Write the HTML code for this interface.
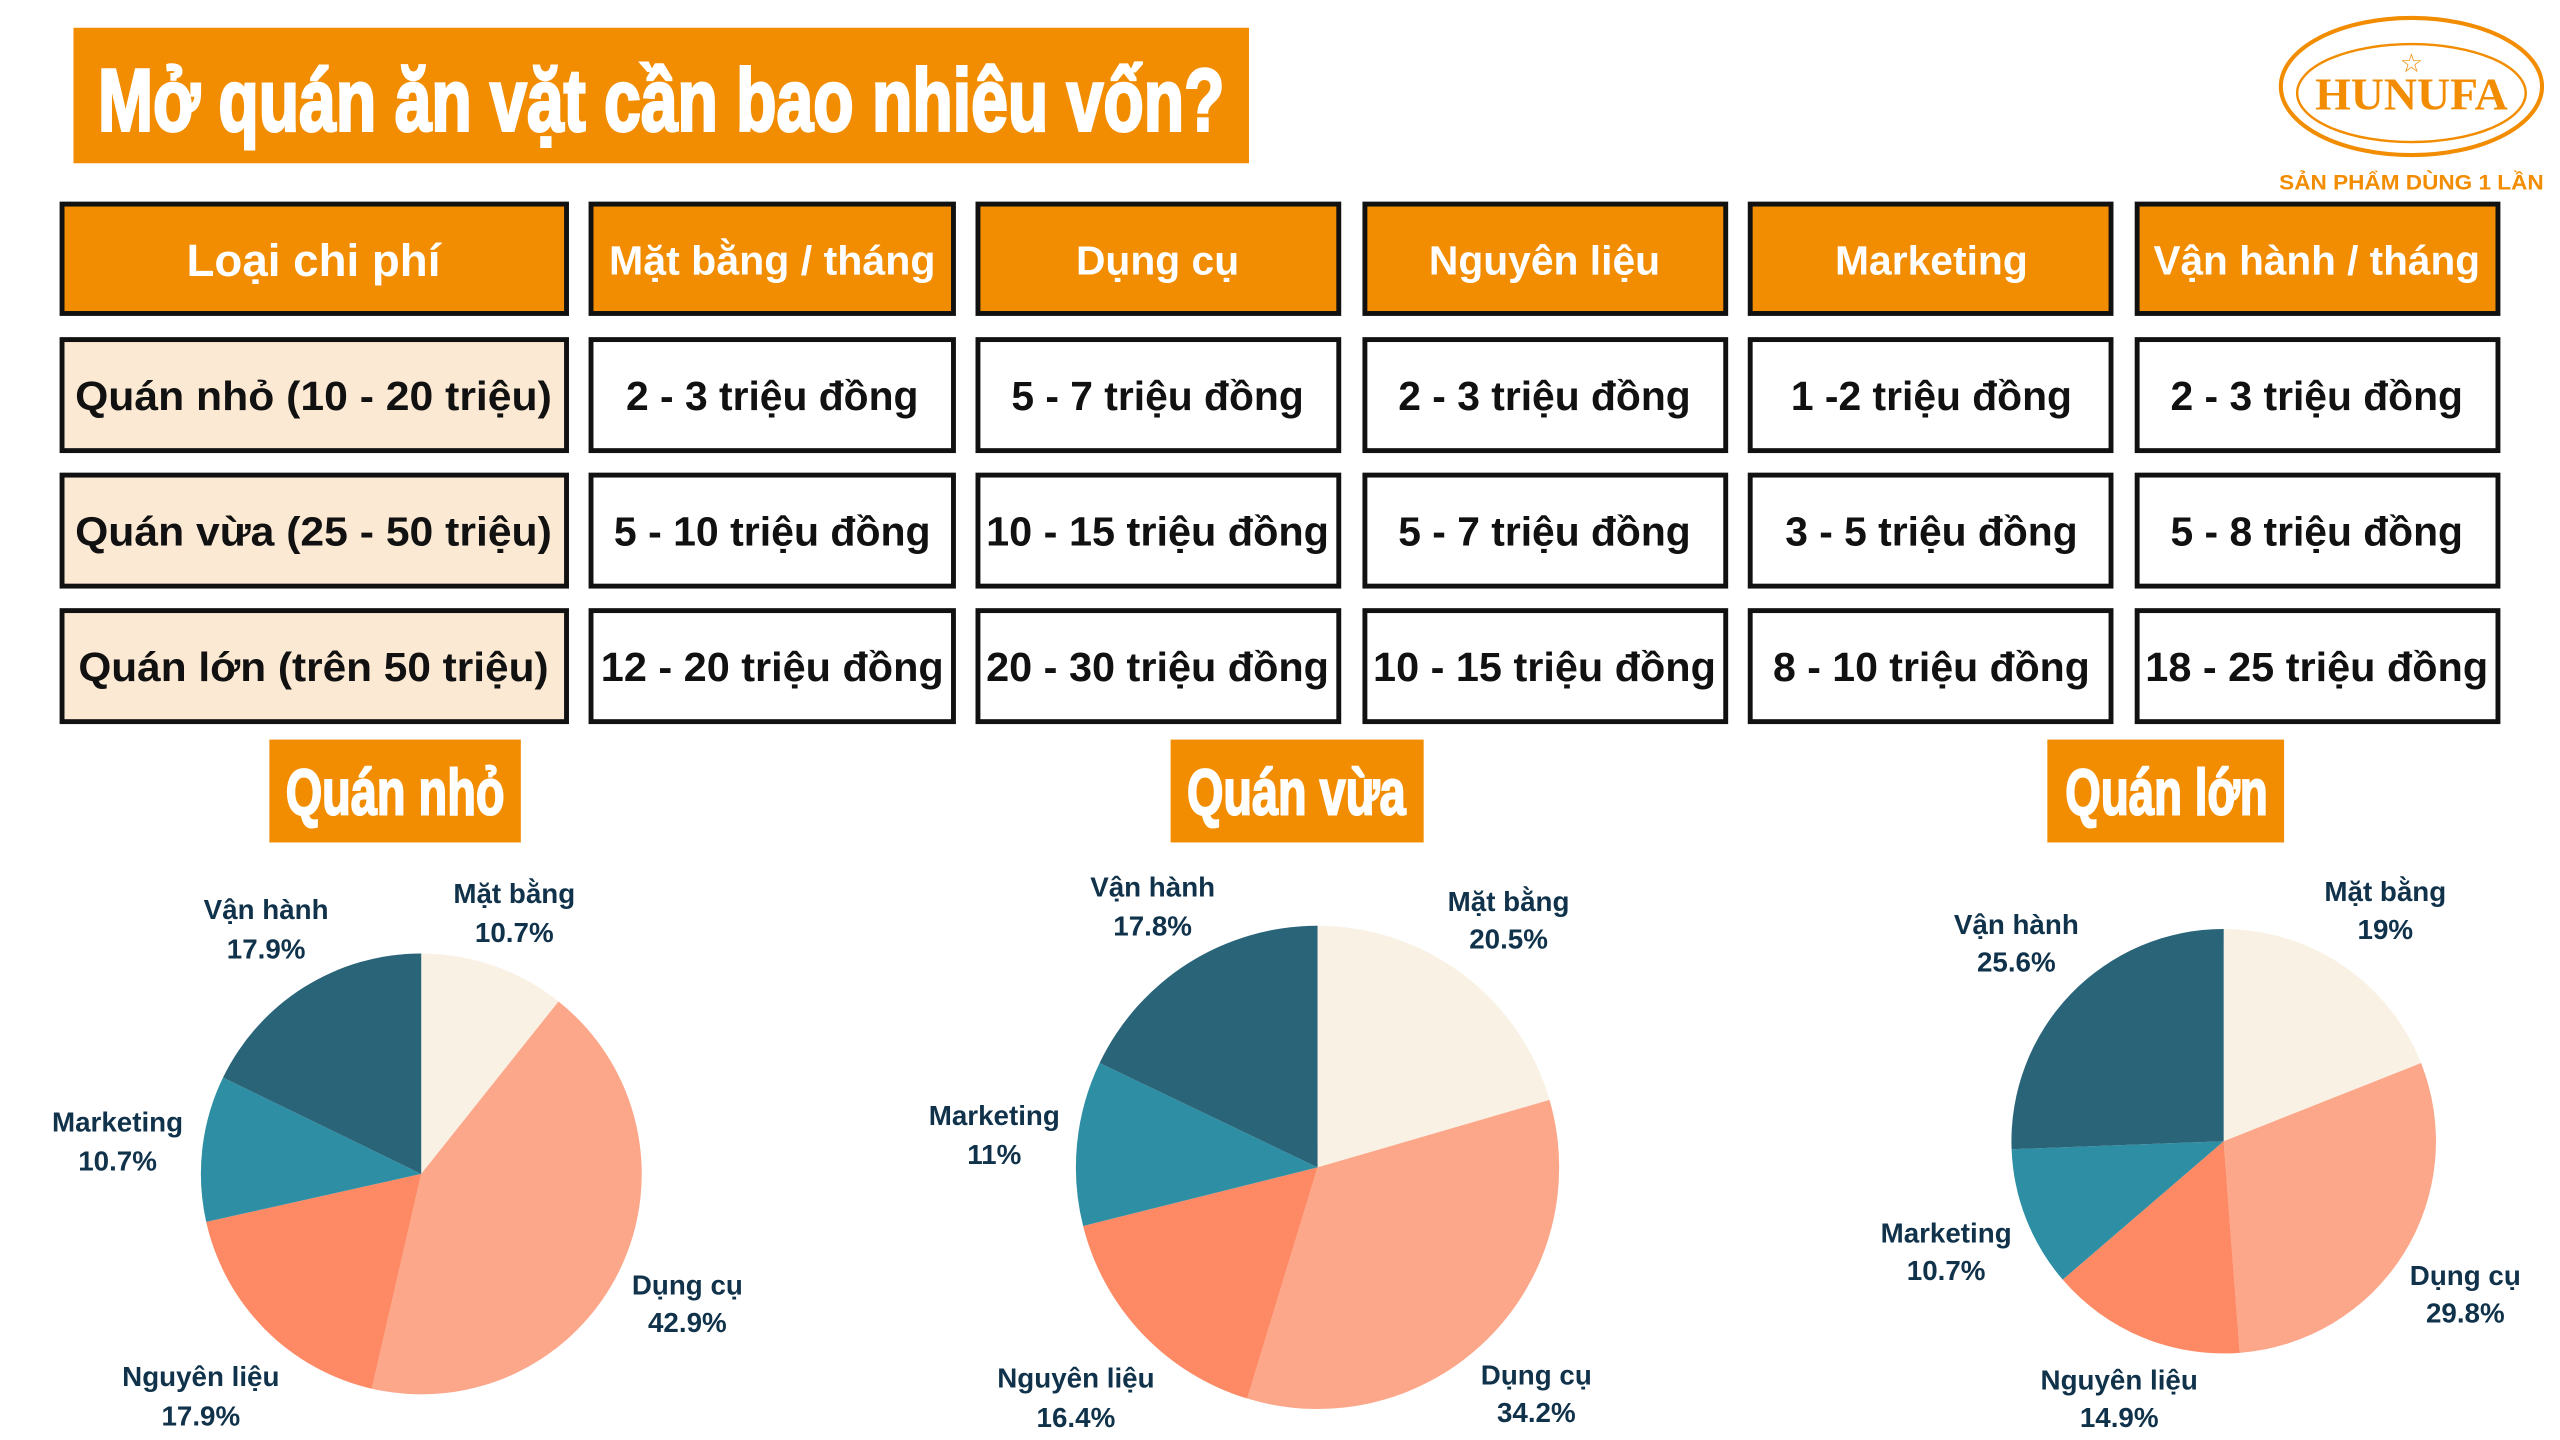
<!DOCTYPE html>
<html><head><meta charset="utf-8"><style>
html,body{margin:0;padding:0;background:#fff;width:2560px;height:1440px;overflow:hidden}
svg{display:block}
.t{font-family:"Liberation Sans",sans-serif;font-weight:bold}
.h{fill:#fff;font-size:25px}
.c{fill:#111;font-size:25px}
.l{fill:#10324a;font-size:17px}
</style></head><body>
<svg width="2560" height="1440" viewBox="0 0 1568 882" xmlns="http://www.w3.org/2000/svg">
<rect width="1568" height="882" fill="#fff"/>
<rect x="45" y="17" width="720" height="83" fill="#F28C00"/>
<text class="t" x="60" y="80" font-size="54" fill="#fff" stroke="#fff" stroke-width="1.8" textLength="690" lengthAdjust="spacingAndGlyphs">Mở quán ăn vặt cần bao nhiêu vốn?</text>
<ellipse cx="1477" cy="53" rx="80" ry="42" fill="none" stroke="#F28C00" stroke-width="2.5"/>
<ellipse cx="1477" cy="57" rx="70" ry="30" fill="none" stroke="#F28C00" stroke-width="1.5"/>
<text x="1477" y="44" text-anchor="middle" font-size="16" fill="#F28C00">☆</text>
<text x="1477" y="67" text-anchor="middle" font-family="Liberation Serif,serif" font-weight="bold" font-size="28" fill="#F28C00" textLength="118" lengthAdjust="spacingAndGlyphs">HUNUFA</text>
<text class="t" x="1477" y="116" text-anchor="middle" font-size="13" fill="#F28C00" textLength="162" lengthAdjust="spacingAndGlyphs">SẢN PHẨM DÙNG 1 LẦN</text>
<g stroke="#111" stroke-width="3">
<rect x="38" y="125" width="309" height="67" fill="#F28C00"/>
<rect x="362" y="125" width="222" height="67" fill="#F28C00"/>
<rect x="599" y="125" width="221" height="67" fill="#F28C00"/>
<rect x="836" y="125" width="221" height="67" fill="#F28C00"/>
<rect x="1072" y="125" width="221" height="67" fill="#F28C00"/>
<rect x="1309" y="125" width="221" height="67" fill="#F28C00"/>
<rect x="38" y="208" width="309" height="68" fill="#FCE9D3"/>
<rect x="362" y="208" width="222" height="68" fill="#fff"/>
<rect x="599" y="208" width="221" height="68" fill="#fff"/>
<rect x="836" y="208" width="221" height="68" fill="#fff"/>
<rect x="1072" y="208" width="221" height="68" fill="#fff"/>
<rect x="1309" y="208" width="221" height="68" fill="#fff"/>
<rect x="38" y="291" width="309" height="68" fill="#FCE9D3"/>
<rect x="362" y="291" width="222" height="68" fill="#fff"/>
<rect x="599" y="291" width="221" height="68" fill="#fff"/>
<rect x="836" y="291" width="221" height="68" fill="#fff"/>
<rect x="1072" y="291" width="221" height="68" fill="#fff"/>
<rect x="1309" y="291" width="221" height="68" fill="#fff"/>
<rect x="38" y="374" width="309" height="68" fill="#FCE9D3"/>
<rect x="362" y="374" width="222" height="68" fill="#fff"/>
<rect x="599" y="374" width="221" height="68" fill="#fff"/>
<rect x="836" y="374" width="221" height="68" fill="#fff"/>
<rect x="1072" y="374" width="221" height="68" fill="#fff"/>
<rect x="1309" y="374" width="221" height="68" fill="#fff"/>
</g>
<g class="t h" text-anchor="middle">
<text x="192" y="169" font-size="28">Loại chi phí</text>
<text x="473" y="168" textLength="200" lengthAdjust="spacingAndGlyphs">Mặt bằng / tháng</text>
<text x="709" y="168">Dụng cụ</text>
<text x="946" y="168">Nguyên liệu</text>
<text x="1183" y="168">Marketing</text>
<text x="1419" y="168" textLength="200" lengthAdjust="spacingAndGlyphs">Vận hành / tháng</text>
</g>
<g class="t c" text-anchor="middle">
<text x="192" y="251" textLength="292" lengthAdjust="spacingAndGlyphs">Quán nhỏ (10 - 20 triệu)</text>
<text x="473" y="251">2 - 3 triệu đồng</text>
<text x="709" y="251">5 - 7 triệu đồng</text>
<text x="946" y="251">2 - 3 triệu đồng</text>
<text x="1183" y="251">1 -2 triệu đồng</text>
<text x="1419" y="251">2 - 3 triệu đồng</text>
<text x="192" y="334" textLength="292" lengthAdjust="spacingAndGlyphs">Quán vừa (25 - 50 triệu)</text>
<text x="473" y="334" textLength="194" lengthAdjust="spacingAndGlyphs">5 - 10 triệu đồng</text>
<text x="709" y="334" textLength="210" lengthAdjust="spacingAndGlyphs">10 - 15 triệu đồng</text>
<text x="946" y="334">5 - 7 triệu đồng</text>
<text x="1183" y="334">3 - 5 triệu đồng</text>
<text x="1419" y="334">5 - 8 triệu đồng</text>
<text x="192" y="417" textLength="288" lengthAdjust="spacingAndGlyphs">Quán lớn (trên 50 triệu)</text>
<text x="473" y="417" textLength="210" lengthAdjust="spacingAndGlyphs">12 - 20 triệu đồng</text>
<text x="709" y="417" textLength="210" lengthAdjust="spacingAndGlyphs">20 - 30 triệu đồng</text>
<text x="946" y="417" textLength="210" lengthAdjust="spacingAndGlyphs">10 - 15 triệu đồng</text>
<text x="1183" y="417" textLength="194" lengthAdjust="spacingAndGlyphs">8 - 10 triệu đồng</text>
<text x="1419" y="417" textLength="210" lengthAdjust="spacingAndGlyphs">18 - 25 triệu đồng</text>
</g>
<rect x="165" y="453" width="154" height="63" fill="#F28C00"/>
<rect x="717" y="453" width="155" height="63" fill="#F28C00"/>
<rect x="1254" y="453" width="145" height="63" fill="#F28C00"/>
<g class="t" fill="#fff" stroke="#fff" stroke-width="1.3" font-size="40" text-anchor="middle">
<text x="242" y="499" textLength="134" lengthAdjust="spacingAndGlyphs">Quán nhỏ</text>
<text x="794" y="499" textLength="134" lengthAdjust="spacingAndGlyphs">Quán vừa</text>
<text x="1327" y="499" textLength="124" lengthAdjust="spacingAndGlyphs">Quán lớn</text>
</g>
<path d="M258 719 L258 584 A135 135 0 0 1 342.1 613.4Z" fill="#F9F1E3"/>
<path d="M258 719 L342.1 613.4 A135 135 0 0 1 227.7 850.6Z" fill="#FCA78A"/>
<path d="M258 719 L227.7 850.6 A135 135 0 0 1 126.3 748.4Z" fill="#FD8A65"/>
<path d="M258 719 L126.3 748.4 A135 135 0 0 1 136.6 660Z" fill="#2E8FA4"/>
<path d="M258 719 L136.6 660 A135 135 0 0 1 258 584Z" fill="#2A6479"/>
<path d="M807 715 L807 567 A148 148 0 0 1 949.1 673.7Z" fill="#F9F1E3"/>
<path d="M807 715 L949.1 673.7 A148 148 0 0 1 763.9 856.6Z" fill="#FCA78A"/>
<path d="M807 715 L763.9 856.6 A148 148 0 0 1 663.4 750.9Z" fill="#FD8A65"/>
<path d="M807 715 L663.4 750.9 A148 148 0 0 1 673.5 651.1Z" fill="#2E8FA4"/>
<path d="M807 715 L673.5 651.1 A148 148 0 0 1 807 567Z" fill="#2A6479"/>
<path d="M1362 699 L1362 569 A130 130 0 0 1 1482.9 651.1Z" fill="#F9F1E3"/>
<path d="M1362 699 L1482.9 651.1 A130 130 0 0 1 1371.8 828.6Z" fill="#FCA78A"/>
<path d="M1362 699 L1371.8 828.6 A130 130 0 0 1 1263.4 783.8Z" fill="#FD8A65"/>
<path d="M1362 699 L1263.4 783.8 A130 130 0 0 1 1232.1 703.9Z" fill="#2E8FA4"/>
<path d="M1362 699 L1232.1 703.9 A130 130 0 0 1 1362 569Z" fill="#2A6479"/>
<g class="t l" text-anchor="middle">
<text x="315" y="553">Mặt bằng</text><text x="315" y="577">10.7%</text>
<text x="163" y="563">Vận hành</text><text x="163" y="587">17.9%</text>
<text x="72" y="693">Marketing</text><text x="72" y="717">10.7%</text>
<text x="421" y="793">Dụng cụ</text><text x="421" y="816">42.9%</text>
<text x="123" y="849">Nguyên liệu</text><text x="123" y="873">17.9%</text>
<text x="706" y="549">Vận hành</text><text x="706" y="573">17.8%</text>
<text x="924" y="558">Mặt bằng</text><text x="924" y="581">20.5%</text>
<text x="609" y="689">Marketing</text><text x="609" y="713">11%</text>
<text x="659" y="850">Nguyên liệu</text><text x="659" y="874">16.4%</text>
<text x="941" y="848">Dụng cụ</text><text x="941" y="871">34.2%</text>
<text x="1461" y="552">Mặt bằng</text><text x="1461" y="575">19%</text>
<text x="1235" y="572">Vận hành</text><text x="1235" y="595">25.6%</text>
<text x="1192" y="761">Marketing</text><text x="1192" y="784">10.7%</text>
<text x="1510" y="787">Dụng cụ</text><text x="1510" y="810">29.8%</text>
<text x="1298" y="851">Nguyên liệu</text><text x="1298" y="874">14.9%</text>
</g>
</svg>
</body></html>
